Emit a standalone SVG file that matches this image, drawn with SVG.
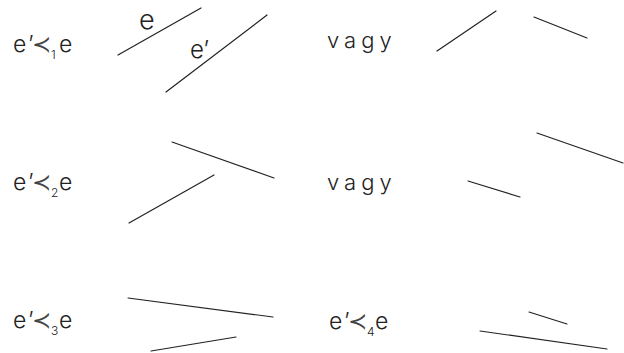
<svg xmlns="http://www.w3.org/2000/svg" width="624" height="353" viewBox="0 0 624 353">
<style>
text { font-family: Inter, "Liberation Sans", "DejaVu Sans", sans-serif; font-weight: 300; fill: #222; }
.m { font-size: 23px; }
.p { font-family: "DejaVu Sans", sans-serif; font-weight: 200; font-size: 23px; fill: #444; }
.s { font-size: 12px; }
.v { font-size: 22px; letter-spacing: 5px; }
line { stroke: #222; stroke-width: 1.2; stroke-linecap: round; }
</style>
<defs>
<g id="rel">
<text class="m" x="0" y="0">e</text>
<text class="m" x="15" y="0">’</text>
<text class="p" x="19" y="0">≺</text>
<text class="m" x="46" y="0">e</text>
</g>
</defs>
<g id="f1" transform="translate(13,52)"><use href="#rel"/><text class="s" x="38" y="7">1</text></g>
<g id="f2" transform="translate(13,190)"><use href="#rel"/><text class="s" x="38" y="7">2</text></g>
<g id="f3" transform="translate(13,328)"><use href="#rel"/><text class="s" x="38" y="7">3</text></g>
<g id="f4" transform="translate(329,329)"><use href="#rel"/><text class="s" x="38" y="7">4</text></g>
<g id="vagy1"><text class="v" x="327" y="48">vagy</text></g>
<g id="vagy2"><text class="v" x="327" y="190">vagy</text></g>
<g id="lines">
<line x1="118" y1="55" x2="201" y2="8"/>
<line x1="166" y1="92" x2="267" y2="15"/>
<line x1="437" y1="51" x2="496" y2="11"/>
<line x1="534" y1="17" x2="587" y2="38"/>
<line x1="172" y1="142" x2="274" y2="178"/>
<line x1="129" y1="223" x2="214" y2="175"/>
<line x1="537" y1="133" x2="623" y2="163"/>
<line x1="468" y1="181" x2="520" y2="197"/>
<line x1="128" y1="298" x2="273" y2="317"/>
<line x1="151" y1="351" x2="236" y2="337"/>
<line x1="480" y1="331" x2="607" y2="349"/>
<line x1="529" y1="312" x2="567" y2="324"/>
</g>
<g id="labels">
<text x="139" y="29" style="font-size:27px">e</text>
<text x="190" y="58" style="font-size:24px">e’</text>
</g>
</svg>
